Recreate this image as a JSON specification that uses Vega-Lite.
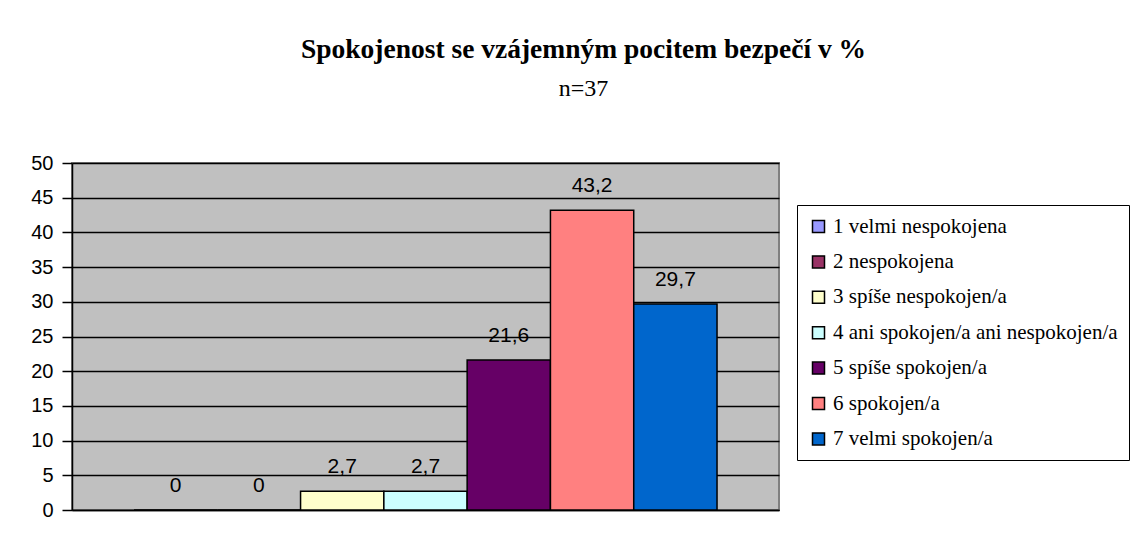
{
  "$schema": "https://vega.github.io/schema/vega-lite/v6.json",
  "width": 707,
  "height": 347,
  "autosize": {"type": "none"},
  "padding": {"left": 72, "top": 163, "right": 368, "bottom": 32},
  "background": "white",
  "title": {
    "text": "Spokojenost se vzájemným pocitem bezpečí v %",
    "subtitle": "n=37",
    "anchor": "middle",
    "dx": 158,
    "offset": 52,
    "font": "Liberation Serif",
    "fontSize": 27.5,
    "fontWeight": "bold",
    "color": "black",
    "subtitleFont": "Liberation Serif",
    "subtitleFontSize": 24,
    "subtitleColor": "black",
    "subtitlePadding": 14
  },
  "config": {
    "locale": {"number": {"decimal": ",", "thousands": " ", "grouping": [3], "currency": ["", " Kč"]}},
    "view": {"fill": "#C0C0C0", "stroke": "#808080", "strokeWidth": 2}
  },
  "data": {
    "values": [
      {"cat": "1 velmi nespokojena", "value": 0},
      {"cat": "2 nespokojena", "value": 0},
      {"cat": "3 spíše nespokojen/a", "value": 2.7},
      {"cat": "4 ani spokojen/a ani nespokojen/a", "value": 2.7},
      {"cat": "5 spíše spokojen/a", "value": 21.6},
      {"cat": "6 spokojen/a", "value": 43.2},
      {"cat": "7 velmi spokojen/a", "value": 29.7}
    ]
  },
  "encoding": {
    "x": {
      "field": "cat",
      "type": "nominal",
      "sort": null,
      "scale": {"paddingInner": 0, "paddingOuter": 0.744},
      "axis": {"labels": false, "ticks": false, "title": null, "domainColor": "black", "domainWidth": 1.5}
    },
    "y": {
      "field": "value",
      "type": "quantitative",
      "scale": {"domain": [0, 50], "nice": false},
      "axis": {
        "values": [0, 5, 10, 15, 20, 25, 30, 35, 40, 45, 50],
        "title": null,
        "labelFont": "Liberation Sans",
        "labelFontSize": 20,
        "labelColor": "black",
        "labelPadding": 9,
        "tickSize": 10,
        "tickColor": "black",
        "tickWidth": 1.5,
        "domainColor": "black",
        "domainWidth": 1.5,
        "gridColor": "black",
        "gridWidth": 1.5,
        "gridOpacity": 1
      }
    }
  },
  "layer": [
    {
      "mark": {"type": "bar", "stroke": "black", "strokeWidth": 1.5},
      "encoding": {
        "color": {
          "field": "cat",
          "type": "nominal",
          "sort": null,
          "scale": {
            "domain": ["1 velmi nespokojena", "2 nespokojena", "3 spíše nespokojen/a", "4 ani spokojen/a ani nespokojen/a", "5 spíše spokojen/a", "6 spokojen/a", "7 velmi spokojen/a"],
            "range": ["#9999FF", "#993366", "#FFFFCC", "#CCFFFF", "#660066", "#FF8080", "#0066CC"]
          },
          "legend": {
            "title": null,
            "orient": "none",
            "legendX": 725,
            "legendY": 42,
            "padding": 11,
            "strokeColor": "black",
            "fillColor": "white",
            "symbolType": "square",
            "symbolSize": 144,
            "symbolStrokeColor": "black",
            "symbolStrokeWidth": 1.5,
            "symbolOpacity": 1,
            "labelFont": "Liberation Serif",
            "labelFontSize": 21,
            "labelColor": "black",
            "labelOffset": 4,
            "labelLimit": 400,
            "rowPadding": 13.4
          }
        }
      }
    },
    {
      "mark": {"type": "text", "font": "Liberation Sans", "fontSize": 21, "color": "black", "baseline": "bottom", "dy": -14},
      "encoding": {
        "text": {"field": "value", "type": "quantitative", "format": "~r"}
      }
    }
  ]
}
